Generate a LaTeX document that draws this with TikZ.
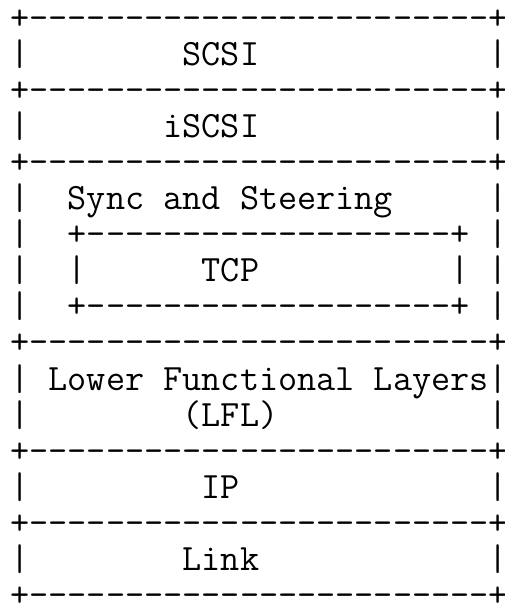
\documentclass[tikz,border=0pt]{standalone}
\usepackage{fontspec}
\tikzset{
  asciiline/.style={anchor=base west, inner sep=0pt, outer sep=0pt,
    font=\ttfamily\fontsize{37.15pt}{36.1pt}\selectfont, text=black}
}
\begin{document}
\begin{tikzpicture}[x=1pt,y=1pt]
\useasboundingbox (0,0) rectangle (505,-603);
\node[asciiline] (l0)  at (10.45,-29.0)  {+------------------------+};
\node[asciiline] (l1)  at (10.45,-65.1)  {|~~~~~~~~SCSI~~~~~~~~~~~~|};
\node[asciiline] (l2)  at (10.45,-101.2) {+------------------------+};
\node[asciiline] (l3)  at (10.45,-137.3) {|~~~~~~~iSCSI~~~~~~~~~~~~|};
\node[asciiline] (l4)  at (10.45,-173.4) {+------------------------+};
\node[asciiline] (l5)  at (10.45,-209.5) {|~~Sync and Steering~~~~~|};
\node[asciiline] (l6)  at (10.45,-245.6) {|~~+-------------------+~|};
\node[asciiline] (l7)  at (10.45,-281.7) {|~~|~~~~~~TCP~~~~~~~~~~|~|};
\node[asciiline] (l8)  at (10.45,-317.8) {|~~+-------------------+~|};
\node[asciiline] (l9)  at (10.45,-353.9) {+------------------------+};
\node[asciiline] (l10) at (10.45,-390.0) {|~Lower Functional Layers|};
\node[asciiline] (l11) at (10.45,-426.1) {|~~~~~~~~(LFL)~~~~~~~~~~~|};
\node[asciiline] (l12) at (10.45,-462.2) {+------------------------+};
\node[asciiline] (l13) at (10.45,-498.3) {|~~~~~~~~~IP~~~~~~~~~~~~~|};
\node[asciiline] (l14) at (10.45,-534.4) {+------------------------+};
\node[asciiline] (l15) at (10.45,-570.5) {|~~~~~~~~Link~~~~~~~~~~~~|};
\node[asciiline] (l16) at (10.45,-606.6) {+------------------------+};
\end{tikzpicture}
\end{document}
